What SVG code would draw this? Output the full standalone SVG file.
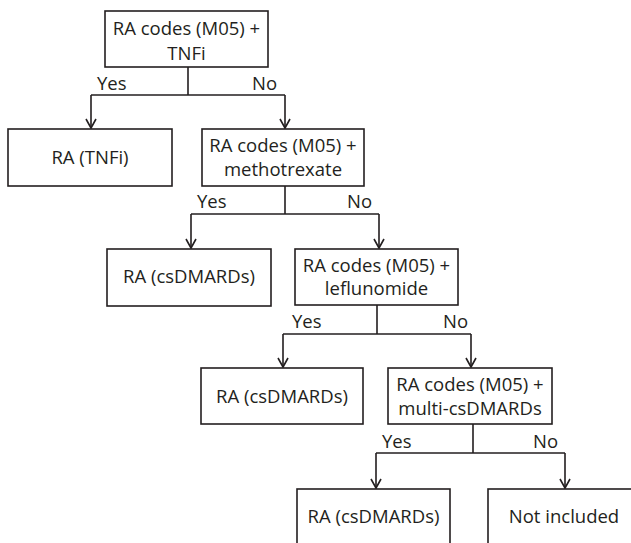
<svg xmlns="http://www.w3.org/2000/svg" width="631" height="543" viewBox="0 0 631 543">
<defs>
<style>
.box{fill:#fff;stroke:#231f20;stroke-width:1.6}
.ln{fill:none;stroke:#231f20;stroke-width:1.6}
.ah{fill:none;stroke:#231f20;stroke-width:1.6}
text{font-family:"Open Sans","Noto Sans",sans-serif;font-size:18.5px;fill:#231f20}
.c{text-anchor:middle}
</style>
</defs>
<rect width="631" height="543" fill="#fff"/>
<g id="connectors">
<path class="ln" d="M188 67V95M91 95H285M91 95V128M285 95V128"/>
<path class="ah" d="M86 119L91 128L96 119M280 119L285 128L290 119"/>
<path class="ln" d="M285 186V214M191 214H379M191 214V248M379 214V248"/>
<path class="ah" d="M186 239L191 248L196 239M374 239L379 248L384 239"/>
<path class="ln" d="M377 305V334M283 334H471M283 334V367M471 334V367"/>
<path class="ah" d="M278 358L283 367L288 358M466 358L471 367L476 358"/>
<path class="ln" d="M473 424V453M376 453H565M376 453V488M565 453V488"/>
<path class="ah" d="M371 479L376 488L381 479M560 479L565 488L570 479"/>
<text x="97" y="90">Yes</text>
<text x="252" y="90">No</text>
<text x="197" y="208">Yes</text>
<text x="347" y="208">No</text>
<text x="292" y="328">Yes</text>
<text x="443" y="328">No</text>
<text x="382" y="448">Yes</text>
<text x="533" y="448">No</text>
</g>
<g id="q1"><rect class="box" x="105" y="11" width="163" height="56"/>
<text class="c" x="186.5" y="35">RA codes (M05) +</text><text class="c" x="186.5" y="60">TNFi</text></g>
<g id="ra_tnfi"><rect class="box" x="8" y="129" width="164" height="57"/>
<text class="c" x="90" y="164">RA (TNFi)</text></g>
<g id="q2"><rect class="box" x="202" y="129" width="162" height="57"/>
<text class="c" x="283" y="152">RA codes (M05) +</text><text class="c" x="283" y="176">methotrexate</text></g>
<g id="ra_cs1"><rect class="box" x="107" y="249" width="164" height="57"/>
<text class="c" x="189" y="283">RA (csDMARDs)</text></g>
<g id="q3"><rect class="box" x="295" y="249" width="163" height="56"/>
<text class="c" x="376.5" y="272">RA codes (M05) +</text><text class="c" x="376.5" y="295">leflunomide</text></g>
<g id="ra_cs2"><rect class="box" x="201" y="368" width="162" height="56"/>
<text class="c" x="282" y="403">RA (csDMARDs)</text></g>
<g id="q4"><rect class="box" x="388" y="368" width="164" height="56"/>
<text class="c" x="470" y="391">RA codes (M05) +</text><text class="c" x="470" y="415">multi-csDMARDs</text></g>
<g id="ra_cs3"><rect class="box" x="297" y="489" width="153" height="70"/>
<text class="c" x="373.5" y="523">RA (csDMARDs)</text></g>
<g id="not_included"><rect class="box" x="488" y="489" width="160" height="70"/>
<text class="c" x="564" y="523">Not included</text></g>
</svg>
